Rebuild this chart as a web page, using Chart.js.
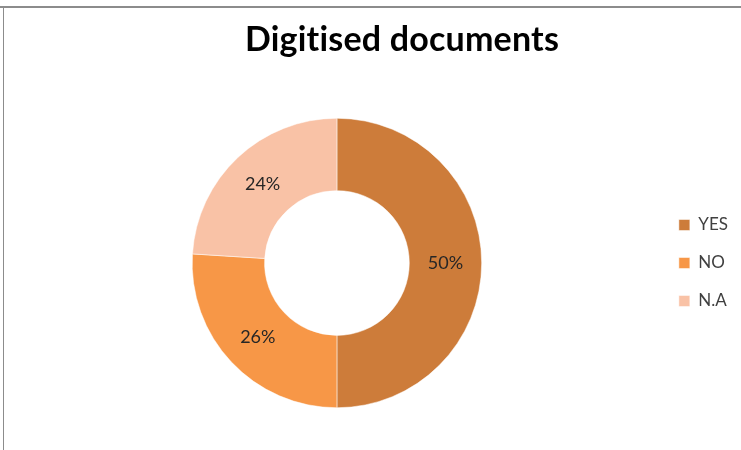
<!DOCTYPE html>
<html>
<head>
<meta charset="utf-8">
<script src="https://cdn.jsdelivr.net/npm/chart.js@4/dist/chart.umd.min.js"></script>
<style>
  html, body { margin: 0; padding: 0; background: #fff; }
  #wrap { position: relative; width: 741px; height: 450px; }
  #topline { position: absolute; left: 0; right: 0; top: 6px; border-top: 2px solid #8c8c8c; }
  #leftline { position: absolute; left: 3px; top: 8px; bottom: 0; border-left: 1px solid #8c8c8c; }
  #chart { position: absolute; left: 0; top: 0; }
</style>
</head>
<body>
<div id="wrap">
  <div id="topline"></div>
  <div id="leftline"></div>
  <canvas id="chart" width="741" height="450"></canvas>
</div>
<script>
const chartTitle = "Digitised documents";
const labels = ["YES", "NO", "N.A"];
const values = [50, 26, 24];
const colors = ["#CD7C3A", "#F79747", "#F9C2A6"];

// heading sits a bit right of the canvas middle, so it is drawn by hand
const heading = {
  id: "heading",
  afterDraw(chart) {
    const ctx = chart.ctx;
    ctx.save();
    ctx.font = "bold 34px Lato";
    ctx.letterSpacing = "0.2px"; // keeps "ti" from turning into a ligature
    ctx.fillStyle = "#000000";
    ctx.textAlign = "center";
    ctx.textBaseline = "middle";
    ctx.fillText(chartTitle, 402, 40);
    ctx.restore();
  }
};

// write the percentage in the middle of each ring slice
const sliceLabels = {
  id: "sliceLabels",
  afterDatasetsDraw(chart) {
    const ctx = chart.ctx;
    const meta = chart.getDatasetMeta(0);
    const total = values.reduce((a, b) => a + b, 0);
    ctx.save();
    ctx.font = "18px Lato";
    ctx.fillStyle = "#262626";
    ctx.textAlign = "center";
    ctx.textBaseline = "middle";
    meta.data.forEach((arc, i) => {
      const p = arc.tooltipPosition();
      ctx.fillText(Math.round(values[i] / total * 100) + "%", p.x, p.y);
    });
    ctx.restore();
  }
};

new Chart(document.getElementById("chart"), {
  type: "doughnut",
  data: {
    labels: labels,
    datasets: [{
      data: values,
      backgroundColor: colors,
      borderColor: "#ffffff",
      borderWidth: 0.5
    }]
  },
  options: {
    responsive: false,
    animation: false,
    cutout: "50%",
    layout: { padding: { top: 118, bottom: 42, left: 16, right: 3 } },
    plugins: {
      legend: {
        position: "right",
        fullSize: false,
        labels: {
          color: "#404040",
          font: { family: "Lato", size: 17 },
          boxWidth: 11,
          boxHeight: 11,
          padding: 21
        }
      },
      tooltip: { enabled: false }
    }
  },
  plugins: [sliceLabels, heading]
});
</script>
</body>
</html>
